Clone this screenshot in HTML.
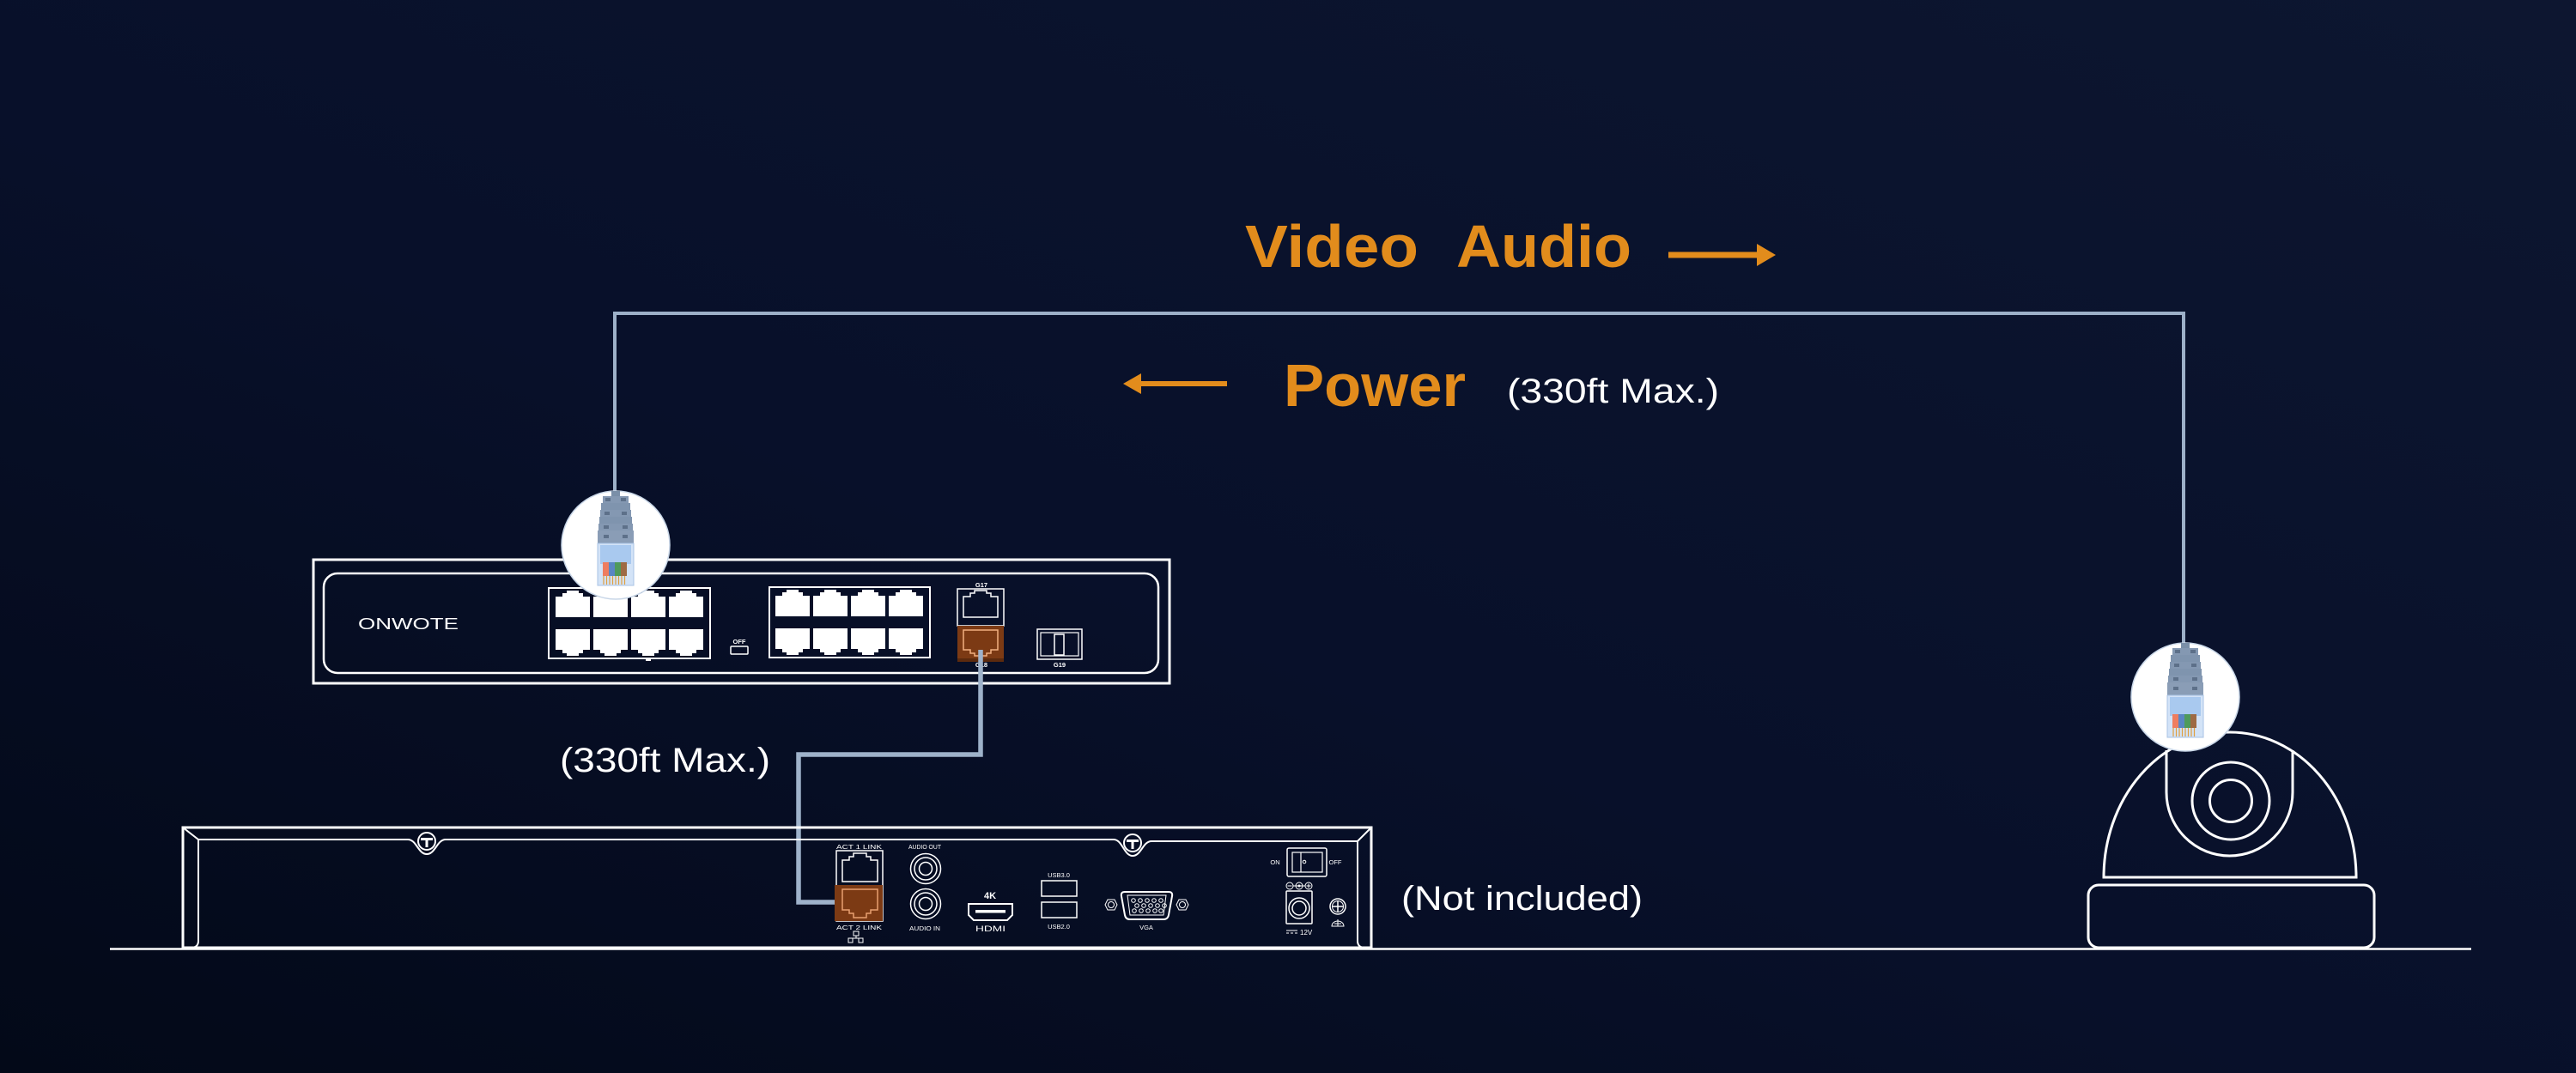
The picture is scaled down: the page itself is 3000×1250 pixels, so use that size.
<!DOCTYPE html>
<html>
<head>
<meta charset="utf-8">
<style>
html,body{margin:0;padding:0;background:#070d1f;}
svg{display:block;}
text{font-family:"Liberation Sans",sans-serif;}
</style>
</head>
<body>
<svg width="3000" height="1250" viewBox="0 0 3000 1250" xmlns="http://www.w3.org/2000/svg">
<defs>
  <linearGradient id="bg" x1="0" y1="1" x2="1" y2="0">
    <stop offset="0" stop-color="#030918"/>
    <stop offset="0.45" stop-color="#08102a"/>
    <stop offset="1" stop-color="#0d1630"/>
  </linearGradient>
  <polygon id="pU" points="0,31 0,7 8,7 8,3 13,3 13,0 27,0 27,3 32,3 32,7 40,7 40,31" fill="#ffffff"/>
  <polygon id="pD" points="0,0 0,24 8,24 8,28 13,28 13,31 27,31 27,28 32,28 32,24 40,24 40,0" fill="#ffffff"/>
  <g id="plug">
    <circle cx="0" cy="0" r="63" fill="#ffffff" stroke="#c9d7e8" stroke-width="1.5"/>
    <rect x="-5" y="-63" width="10" height="8" fill="#7a8fa8"/>
    <rect x="-15" y="-57" width="30" height="8" fill="#8498b2"/>
    <rect x="-17" y="-49" width="34" height="8" fill="#7f94ae"/>
    <rect x="-18" y="-41" width="36" height="8" fill="#8498b2"/>
    <rect x="-19" y="-33" width="38" height="8" fill="#7f94ae"/>
    <rect x="-20" y="-25" width="40" height="8" fill="#8498b2"/>
    <rect x="-21" y="-17" width="42" height="15" fill="#8a9db6"/>
    <rect x="-12" y="-55" width="6" height="4" fill="#5d7089"/>
    <rect x="6" y="-55" width="6" height="4" fill="#5d7089"/>
    <rect x="-13" y="-39" width="6" height="4" fill="#5d7089"/>
    <rect x="7" y="-39" width="6" height="4" fill="#5d7089"/>
    <rect x="-14" y="-23" width="6" height="4" fill="#5d7089"/>
    <rect x="8" y="-23" width="6" height="4" fill="#5d7089"/>
    <rect x="-14" y="-12" width="6" height="4" fill="#5d7089"/>
    <rect x="8" y="-12" width="6" height="4" fill="#5d7089"/>
    <rect x="-21" y="-2" width="42" height="49" fill="#d3e3f7" stroke="#a8c3e4" stroke-width="1"/>
    <rect x="-18" y="0" width="36" height="22" fill="#a9c9ef"/>
    <rect x="-15" y="20" width="7" height="16" fill="#ee7d60"/>
    <rect x="-8" y="20" width="7" height="16" fill="#5a86c4"/>
    <rect x="-1" y="20" width="7" height="16" fill="#4f9a5c"/>
    <rect x="6" y="20" width="7" height="16" fill="#9e6a44"/>
    <g stroke="#e0a040" stroke-width="1.2">
      <line x1="-14" y1="36" x2="-14" y2="46"/><line x1="-10.5" y1="36" x2="-10.5" y2="46"/>
      <line x1="-7" y1="36" x2="-7" y2="46"/><line x1="-3.5" y1="36" x2="-3.5" y2="46"/>
      <line x1="0" y1="36" x2="0" y2="46"/><line x1="3.5" y1="36" x2="3.5" y2="46"/>
      <line x1="7" y1="36" x2="7" y2="46"/><line x1="10.5" y1="36" x2="10.5" y2="46"/>
    </g>
  </g>
</defs>

<rect x="0" y="0" width="3000" height="1250" fill="url(#bg)"/>

<!-- Labels -->
<text x="1450" y="311" font-size="70" font-weight="bold" fill="#e28c1c" textLength="202" lengthAdjust="spacingAndGlyphs">Video</text>
<text x="1696" y="311" font-size="70" font-weight="bold" fill="#e28c1c" textLength="204" lengthAdjust="spacingAndGlyphs">Audio</text>
<rect x="1943" y="293.5" width="104" height="7" fill="#e28c1c"/>
<polygon points="2046,284 2068,297 2046,310" fill="#e28c1c"/>

<polygon points="1308,447 1329,435 1329,459" fill="#e28c1c"/>
<rect x="1328" y="444" width="101" height="6" fill="#e28c1c"/>
<text x="1495" y="473" font-size="70" font-weight="bold" fill="#e28c1c" textLength="212" lengthAdjust="spacingAndGlyphs">Power</text>
<text x="1755" y="469" font-size="40" fill="#ffffff" textLength="247" lengthAdjust="spacingAndGlyphs">(330ft Max.)</text>

<text x="652" y="899" font-size="40" fill="#ffffff" textLength="245" lengthAdjust="spacingAndGlyphs">(330ft Max.)</text>
<text x="1632" y="1060" font-size="40" fill="#ffffff" textLength="281" lengthAdjust="spacingAndGlyphs">(Not included)</text>

<!-- Top cable -->
<polyline points="716,575 716,365 2543,365 2543,752" fill="none" stroke="#9db0c8" stroke-width="4"/>

<!-- Switch -->
<rect x="365" y="652" width="997" height="144" fill="none" stroke="#ffffff" stroke-width="3"/>
<rect x="377" y="668" width="972" height="116" rx="16" fill="none" stroke="#ffffff" stroke-width="2.5"/>
<text x="417" y="733" font-size="18" fill="#ffffff" textLength="117" lengthAdjust="spacingAndGlyphs">ONWOTE</text>

<rect x="639" y="685" width="188" height="82" fill="none" stroke="#ffffff" stroke-width="2"/>
<use href="#pU" x="647" y="688"/><use href="#pU" x="691" y="688"/><use href="#pU" x="735" y="688"/><use href="#pU" x="779" y="688"/>
<use href="#pD" x="647" y="733"/><use href="#pD" x="691" y="733"/><use href="#pD" x="735" y="733"/><use href="#pD" x="779" y="733"/>
<rect x="752" y="768" width="6" height="2" fill="#ffffff"/>

<text x="861" y="750" font-size="7.5" font-weight="bold" fill="#ffffff" text-anchor="middle">OFF</text>
<rect x="851" y="753" width="20" height="9" rx="1" fill="none" stroke="#ffffff" stroke-width="1.5"/>

<rect x="896" y="684" width="187" height="82" fill="none" stroke="#ffffff" stroke-width="2"/>
<use href="#pU" x="903" y="687"/><use href="#pU" x="947" y="687"/><use href="#pU" x="991" y="687"/><use href="#pU" x="1035" y="687"/>
<use href="#pD" x="903" y="732"/><use href="#pD" x="947" y="732"/><use href="#pD" x="991" y="732"/><use href="#pD" x="1035" y="732"/>

<text x="1143" y="684" font-size="7.5" font-weight="bold" fill="#ffffff" text-anchor="middle">G17</text>
<rect x="1115" y="686" width="54" height="43" fill="none" stroke="#ffffff" stroke-width="1.5"/>
<polygon points="1122,719 1122,695 1130,695 1130,691 1135,691 1135,688 1149,688 1149,691 1154,691 1154,695 1162,695 1162,719" fill="none" stroke="#ffffff" stroke-width="1.5"/>
<rect x="1115" y="729" width="54" height="42" fill="#7c3a14"/>
<rect x="1115" y="767" width="54" height="4" fill="#5c2a0e"/>
<polygon points="1122,734 1122,757 1130,757 1130,761 1135,761 1135,764 1149,764 1149,761 1154,761 1154,757 1162,757 1162,734" fill="none" stroke="#f2b080" stroke-width="1.5"/>
<text x="1143" y="777" font-size="7.5" font-weight="bold" fill="#ffffff" text-anchor="middle">G18</text>

<rect x="1208" y="733" width="52" height="35" fill="none" stroke="#ffffff" stroke-width="1.5"/>
<rect x="1212" y="737" width="44" height="27" fill="none" stroke="#ffffff" stroke-width="1.2"/>
<rect x="1228" y="739" width="11" height="24" fill="none" stroke="#ffffff" stroke-width="1.5"/>
<text x="1234" y="777" font-size="7.5" font-weight="bold" fill="#ffffff" text-anchor="middle">G19</text>

<use href="#plug" x="717" y="635"/>

<!-- Lower cable -->
<polyline points="1142,757 1142,879 930,879 930,1051 992,1051" fill="none" stroke="#9eb2ca" stroke-width="5.5"/>

<!-- NVR -->
<rect x="213" y="964" width="1384" height="140" fill="none" stroke="#ffffff" stroke-width="3"/>
<path d="M213,964 L231,978 H475 C485,978 487,995 497,995 C507,995 509,978 519,978 H1297 C1307,978 1309,997 1319,997 C1329,997 1331,980 1341,980 H1581 L1597,964" fill="none" stroke="#ffffff" stroke-width="2"/>
<path d="M231,978 V1096 Q231,1103 224,1104" fill="none" stroke="#ffffff" stroke-width="2"/>
<path d="M1581,980 V1096 Q1581,1103 1588,1104" fill="none" stroke="#ffffff" stroke-width="2"/>
<circle cx="497" cy="980" r="10" fill="none" stroke="#ffffff" stroke-width="2"/>
<rect x="490" y="976" width="14" height="3" fill="#ffffff"/><rect x="495.5" y="976" width="3" height="11" fill="#ffffff"/>
<circle cx="1319" cy="982" r="10" fill="none" stroke="#ffffff" stroke-width="2"/>
<rect x="1312" y="978" width="14" height="3" fill="#ffffff"/><rect x="1317.5" y="978" width="3" height="11" fill="#ffffff"/>

<!-- LAN -->
<text x="974" y="989" font-size="7.5" fill="#ffffff" textLength="53" lengthAdjust="spacingAndGlyphs">ACT   1   LINK</text>
<rect x="974" y="991" width="54" height="82" fill="none" stroke="#ffffff" stroke-width="1.5"/>
<polygon points="981,1027 981,1002 989,1002 989,998 994,998 994,994 1009,994 1009,998 1014,998 1014,1002 1022,1002 1022,1027" fill="none" stroke="#ffffff" stroke-width="1.5"/>
<rect x="972" y="1031" width="56" height="42" fill="#7c3a14"/>
<polygon points="981,1036 981,1060 989,1060 989,1064 994,1064 994,1069 1009,1069 1009,1064 1014,1064 1014,1060 1022,1060 1022,1036" fill="none" stroke="#e8a070" stroke-width="1.5"/>
<text x="974" y="1083" font-size="7.5" fill="#ffffff" textLength="53" lengthAdjust="spacingAndGlyphs">ACT   2   LINK</text>
<g fill="none" stroke="#ffffff" stroke-width="1">
  <rect x="994" y="1085" width="6" height="5"/><line x1="997" y1="1090" x2="997" y2="1093"/>
  <line x1="991" y1="1093" x2="1003" y2="1093"/>
  <rect x="988" y="1093" width="5" height="5"/><rect x="1000" y="1093" width="5" height="5"/>
</g>

<!-- Audio -->
<text x="1058" y="989" font-size="7.5" fill="#ffffff" textLength="38" lengthAdjust="spacingAndGlyphs">AUDIO OUT</text>
<g fill="none" stroke="#ffffff" stroke-width="1.5">
  <circle cx="1078" cy="1012" r="17.5"/><circle cx="1078" cy="1012" r="13"/><circle cx="1078" cy="1012" r="7.5"/>
  <circle cx="1078" cy="1053" r="17.5"/><circle cx="1078" cy="1053" r="13"/><circle cx="1078" cy="1053" r="7.5"/>
</g>
<text x="1059" y="1084" font-size="7.5" fill="#ffffff" textLength="36" lengthAdjust="spacingAndGlyphs">AUDIO  IN</text>

<!-- HDMI -->
<text x="1153" y="1047" font-size="11" font-weight="bold" fill="#ffffff" text-anchor="middle">4K</text>
<path d="M1128,1053 H1179 V1066 L1173,1072 H1134 L1128,1066 Z" fill="none" stroke="#ffffff" stroke-width="2"/>
<rect x="1136" y="1060" width="35" height="3.5" fill="#ffffff"/>
<text x="1136" y="1085" font-size="9" fill="#ffffff" textLength="35" lengthAdjust="spacingAndGlyphs">HDMI</text>

<!-- USB -->
<text x="1233" y="1022" font-size="7.5" fill="#ffffff" text-anchor="middle">USB3.0</text>
<rect x="1213" y="1026" width="41" height="18" fill="none" stroke="#ffffff" stroke-width="1.5"/>
<rect x="1213" y="1051" width="41" height="18" fill="none" stroke="#ffffff" stroke-width="1.5"/>
<text x="1233" y="1082" font-size="7.5" fill="#ffffff" text-anchor="middle">USB2.0</text>

<!-- VGA -->
<path d="M1310,1039 H1361 Q1366,1039 1365,1044 L1361,1066 Q1360,1071 1355,1071 H1316 Q1311,1071 1310,1066 L1306,1044 Q1305,1039 1310,1039 Z" fill="none" stroke="#ffffff" stroke-width="2"/>
<path d="M1313,1043 H1358 L1355,1066 H1316 Z" fill="none" stroke="#ffffff" stroke-width="1"/>
<g fill="none" stroke="#ffffff" stroke-width="1">
  <circle cx="1320" cy="1049" r="2.3"/><circle cx="1328" cy="1049" r="2.3"/><circle cx="1336" cy="1049" r="2.3"/><circle cx="1344" cy="1049" r="2.3"/><circle cx="1352" cy="1049" r="2.3"/>
  <circle cx="1324" cy="1055" r="2.3"/><circle cx="1332" cy="1055" r="2.3"/><circle cx="1340" cy="1055" r="2.3"/><circle cx="1348" cy="1055" r="2.3"/><circle cx="1356" cy="1055" r="2.3"/>
  <circle cx="1321" cy="1061" r="2.3"/><circle cx="1329" cy="1061" r="2.3"/><circle cx="1337" cy="1061" r="2.3"/><circle cx="1345" cy="1061" r="2.3"/><circle cx="1352" cy="1061" r="2.3"/>
  <polygon points="1290,1048 1298,1048 1301,1054 1298,1060 1290,1060 1287,1054"/><circle cx="1294" cy="1054" r="3.5"/>
  <polygon points="1373,1048 1381,1048 1384,1054 1381,1060 1373,1060 1370,1054"/><circle cx="1377" cy="1054" r="3.5"/>
</g>
<text x="1335" y="1083" font-size="7.5" fill="#ffffff" text-anchor="middle">VGA</text>

<!-- Power switch -->
<text x="1485" y="1007" font-size="7.5" fill="#ffffff" text-anchor="middle">ON</text>
<rect x="1499" y="988" width="46" height="33" rx="2" fill="none" stroke="#ffffff" stroke-width="1.5"/>
<rect x="1505" y="993" width="35" height="23" fill="none" stroke="#ffffff" stroke-width="1.2"/>
<line x1="1515" y1="993" x2="1515" y2="1016" stroke="#ffffff" stroke-width="1.2"/>
<circle cx="1519" cy="1004" r="1.8" fill="none" stroke="#ffffff" stroke-width="1"/>
<text x="1555" y="1007" font-size="7.5" fill="#ffffff" text-anchor="middle">OFF</text>

<g fill="none" stroke="#ffffff" stroke-width="1">
  <line x1="1506" y1="1032" x2="1520" y2="1032"/>
  <circle cx="1502" cy="1032" r="4"/><circle cx="1513" cy="1032" r="4"/><circle cx="1524" cy="1032" r="4"/>
  <line x1="1499.5" y1="1032" x2="1504.5" y2="1032"/>
  <line x1="1521.5" y1="1032" x2="1526.5" y2="1032"/><line x1="1524" y1="1029.5" x2="1524" y2="1034.5"/>
</g>
<circle cx="1513" cy="1032" r="1.5" fill="#ffffff"/>
<rect x="1498" y="1038" width="30" height="38" rx="1" fill="none" stroke="#ffffff" stroke-width="1.5"/>
<circle cx="1513" cy="1058" r="12" fill="none" stroke="#ffffff" stroke-width="1.5"/>
<circle cx="1513" cy="1058" r="8" fill="none" stroke="#ffffff" stroke-width="1.5"/>
<g stroke="#ffffff" stroke-width="1">
  <line x1="1498" y1="1084" x2="1511" y2="1084"/>
  <line x1="1498" y1="1087" x2="1501" y2="1087"/><line x1="1503" y1="1087" x2="1506" y2="1087"/><line x1="1508" y1="1087" x2="1511" y2="1087"/>
</g>
<text x="1514" y="1089" font-size="8" fill="#ffffff">12V</text>

<circle cx="1558" cy="1056" r="9" fill="none" stroke="#ffffff" stroke-width="1.5"/>
<circle cx="1558" cy="1056" r="6.5" fill="none" stroke="#ffffff" stroke-width="1"/>
<line x1="1552" y1="1056" x2="1564" y2="1056" stroke="#ffffff" stroke-width="1.5"/>
<line x1="1558" y1="1050" x2="1558" y2="1062" stroke="#ffffff" stroke-width="1.5"/>
<path d="M1551,1079 A7,6 0 0 1 1565,1079 Z M1558,1071 V1079 M1554,1076 H1562" fill="none" stroke="#ffffff" stroke-width="1"/>

<!-- Camera -->
<path d="M2450,1022 A147,169 0 0 1 2744,1022 Z" fill="none" stroke="#ffffff" stroke-width="3"/>
<path d="M2523,874 V923 A73.5,74 0 0 0 2670,923 V874" fill="none" stroke="#ffffff" stroke-width="3"/>
<circle cx="2598" cy="933" r="45" fill="none" stroke="#ffffff" stroke-width="3"/>
<circle cx="2598" cy="933" r="24.5" fill="none" stroke="#ffffff" stroke-width="3"/>
<rect x="2432" y="1031" width="333" height="73" rx="12" fill="none" stroke="#ffffff" stroke-width="3"/>
<use href="#plug" x="2545" y="812"/>

<!-- Ground line -->
<line x1="128" y1="1105.5" x2="2878" y2="1105.5" stroke="#ffffff" stroke-width="2.5"/>
</svg>
</body>
</html>
